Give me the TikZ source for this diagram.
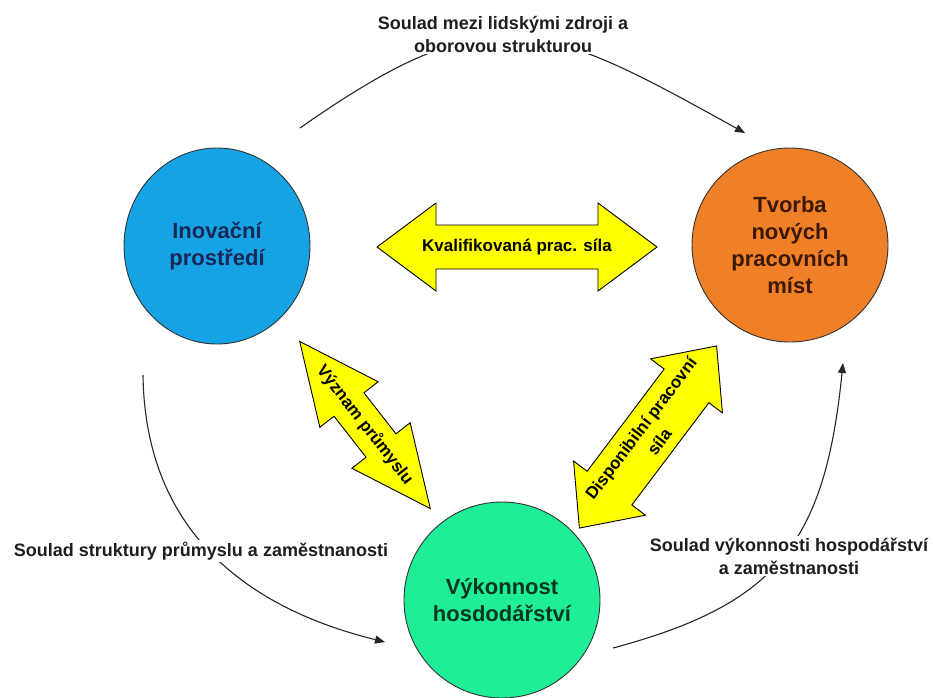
\documentclass[tikz,border=0pt]{standalone}
\usepackage{fontspec}
\setmainfont{Liberation Sans}
\usetikzlibrary{shapes.geometric,arrows.meta}
\definecolor{cblue}{RGB}{22,163,230}
\definecolor{corange}{RGB}{240,128,40}
\definecolor{cgreen}{RGB}{30,238,150}
\definecolor{cyellow}{RGB}{255,255,0}
\definecolor{tblue}{RGB}{25,40,85}
\definecolor{torange}{RGB}{60,25,5}
\definecolor{tgreen}{RGB}{10,55,30}
\definecolor{tlabel}{RGB}{30,30,30}
\newcommand{\yarrowshape}[6]{%
  \begin{scope}[shift={#1},rotate=#2]
    \draw[yarr] (-#3,0) -- ({-#3+#6},#5) -- ({-#3+#6},#4) -- ({#3-#6},#4) -- ({#3-#6},#5)
      -- (#3,0) -- ({#3-#6},-#5) -- ({#3-#6},-#4) -- ({-#3+#6},-#4) -- ({-#3+#6},-#5) -- cycle;
  \end{scope}}
\begin{document}
\begin{tikzpicture}[x=1pt,y=-1pt,
  circ/.style={ellipse, draw=black!80, line width=0.9pt, inner sep=0pt, align=center,
    font=\fontsize{22}{27}\selectfont\bfseries},
  lbl/.style={align=center, fill=white, inner sep=2pt, text=tlabel,
    font=\fontsize{18}{23}\selectfont\bfseries},
  arc/.style={line width=1.1pt, draw=black!85, -{Triangle[length=10pt,width=8pt]}},
  yarr/.style={fill=cyellow, draw=black, line width=0.9pt, line join=miter},
  atext/.style={font=\fontsize{17}{23}\selectfont\bfseries, align=center, inner sep=0pt}
]
\useasboundingbox (0,0) rectangle (933,697);

% circles
\node[circ, fill=cblue, text=tblue, minimum width=186pt, minimum height=196pt] (inov) at (217,246) {Inovační\\prostředí};
\node[circ, fill=corange, text=torange, minimum width=196pt, minimum height=194pt] (tvorba) at (790,245) {Tvorba\\nových\\pracovních\\míst};
\node[circ, fill=cgreen, text=tgreen, minimum width=196pt, minimum height=196pt] (vyk) at (502,600) {Výkonnost\\hosdodářství};

% curved connectors
\coordinate (a1s) at (300,128); \coordinate (a1e) at (745,133);
\draw[arc] (a1s) .. controls (491,-6) and (541,20) .. (a1e);
\coordinate (a2s) at (143,375); \coordinate (a2e) at (385,642);
\draw[arc] (a2s) .. controls (145,525) and (239,606) .. (a2e);
\coordinate (a3s) at (613,648); \coordinate (a3e) at (843,363);
\draw[arc] (a3s) .. controls (777,604) and (825,543) .. (a3e);

% labels
\node[lbl] (l1) at (503,34) {Soulad mezi lidskými zdroji a\\oborovou strukturou};
\node[lbl] (l2) at (201,551) {Soulad struktury průmyslu a zaměstnanosti};
\node[lbl] (l3) at (789,556) {Soulad výkonnosti hospodářství\\a zaměstnanosti};

% yellow double arrows
\yarrowshape{(517,247)}{0}{140}{22}{44}{59}
\node[atext] (kval) at (517,247) {Kvalifikovaná prac. síla};

\yarrowshape{(365,425)}{-52}{106}{19}{37}{80}
\node[atext, rotate=-52] (vyz) at (365,425) {Význam průmyslu};

\yarrowshape{(648,437)}{53}{114}{28}{45}{50}
\node[atext, rotate=53] (disp) at (650,435) {Disponibilní pracovní\\síla};
\end{tikzpicture}
\end{document}
